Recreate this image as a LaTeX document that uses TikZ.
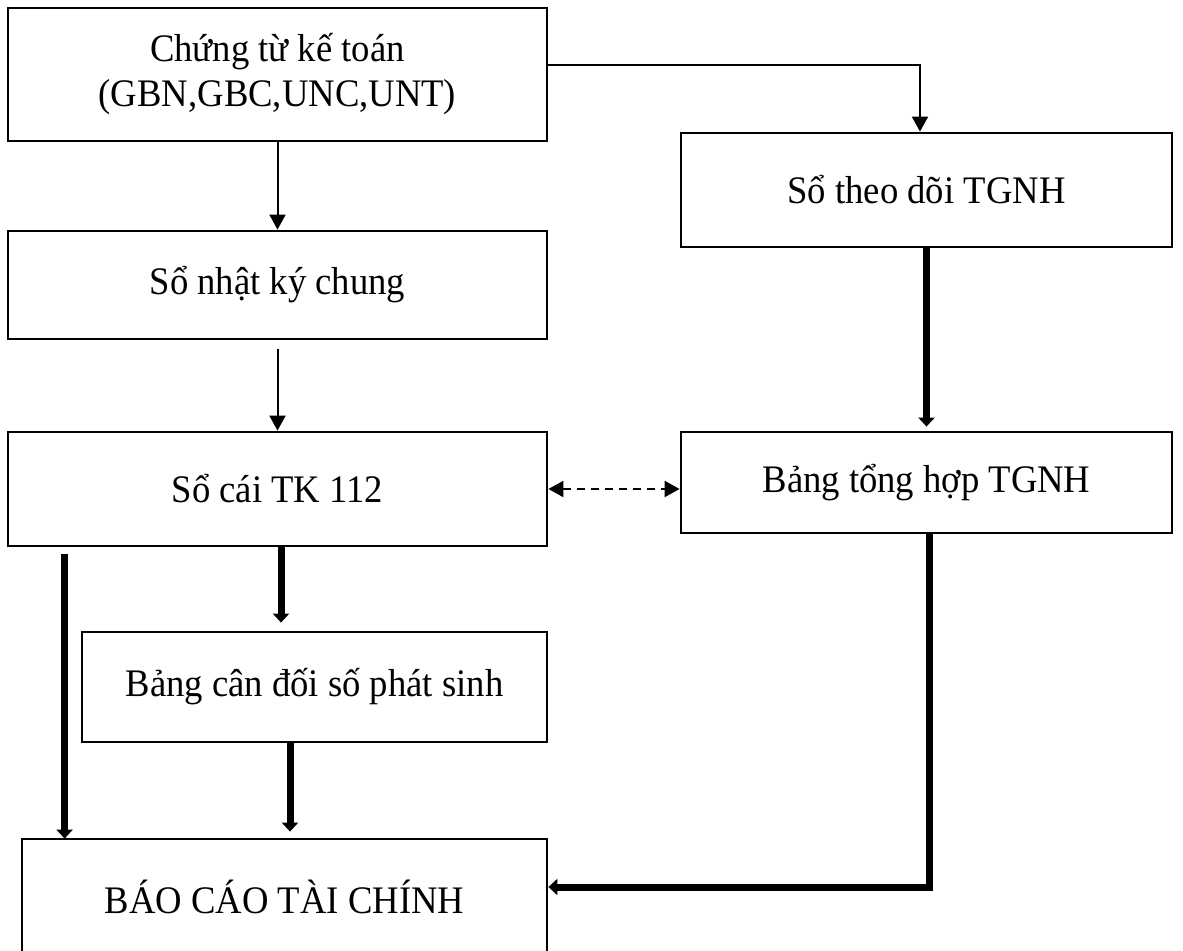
\documentclass[tikz,border=0pt]{standalone}
\usepackage{fontspec}
\setmainfont{Liberation Serif}[FakeStretch=0.94]
\usetikzlibrary{arrows.meta}

\tikzset{
  box/.style={draw, line width=1.4pt, inner sep=0pt, align=center},
  thinarrow/.style={line width=1pt, -{Triangle[width=8pt,length=7.5pt]}},
  thickarrow/.style={line width=3.5pt, -{Triangle[width=8pt,length=4.5pt]}},
  dashlink/.style={line width=1pt, dash pattern=on 4pt off 3pt,
    {Triangle[width=8pt,length=7.5pt]}-{Triangle[width=8pt,length=7.5pt]}}
}

\begin{document}
\begin{tikzpicture}[x=0.5pt, y=-0.5pt, font=\fontsize{19.5}{22.5}\selectfont]
  \useasboundingbox (0,0) rectangle (1183,951);

  % left column
  \node[box, minimum width=269.5pt, minimum height=66.5pt] (ctu) at (277.5,74.5)
    {Chứng từ kế toán\\(GBN,GBC,UNC,UNT)};
  \node[box, minimum width=269.5pt, minimum height=54pt] (nkc) at (277.5,285) {Sổ nhật ký chung};
  \node[box, minimum width=269.5pt, minimum height=57pt] (socai) at (277.5,489) {Sổ cái TK 112};
  \node[box, minimum width=232.5pt, minimum height=55pt] (bcd) at (314.5,687) {Bảng cân đối số phát sinh};
  \node[box, minimum width=262.5pt, minimum height=58pt] (bctc) at (284.5,897) {BÁO CÁO TÀI CHÍNH};

  % right column
  \node[box, minimum width=245.5pt, minimum height=57pt] (sotd) at (926.5,190) {Sổ theo dõi TGNH};
  \node[box, minimum width=245.5pt, minimum height=50.5pt] (bth) at (926.5,482.5) {Bảng tổng hợp TGNH};

  % thin arrows
  \draw[thinarrow] ([yshift=4.75pt]ctu.east) -| ([xshift=-3.25pt]sotd.north);
  \draw[thinarrow] (ctu.south) -- (nkc.north);
  \draw[thinarrow] ([yshift=-4.5pt]nkc.south) -- (socai.north);
  \draw[dashlink] (socai.east) -- (socai.east -| bth.west);

  % thick arrows
  \draw[thickarrow, shorten >=2pt] (sotd.south) -- (bth.north);
  \draw[thickarrow, shorten >=4pt] ([xshift=1.75pt]socai.south) -- ([xshift=1.75pt]socai.south |- bcd.north);
  \draw[thickarrow, shorten >=3pt] ([shift={(29pt,-3.5pt)}]socai.south west)
    -- ([shift={(29pt,-3.5pt)}]socai.south west |- bctc.north);
  \draw[thickarrow, shorten >=3pt] ([xshift=-12.25pt]bcd.south) -- ([xshift=-12.25pt]bcd.south |- bctc.north);
  \draw[thickarrow] ([xshift=1.25pt]bth.south) |- ([yshift=5pt]bctc.east);
\end{tikzpicture}
\end{document}
